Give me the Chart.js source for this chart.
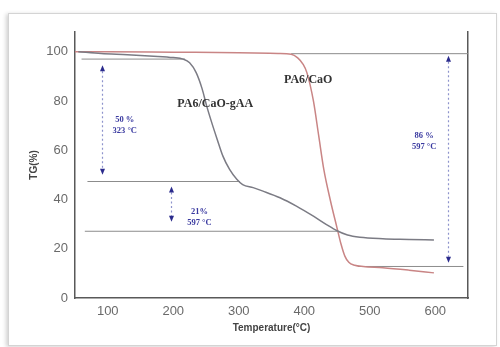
<!DOCTYPE html>
<html>
<head>
<meta charset="utf-8">
<script src="https://cdn.jsdelivr.net/npm/chart.js"></script>
<style>
  body { margin: 0; background: #fff; }
  #frame { position: absolute; left: 8px; top: 13px; width: 487px; height: 331px; border: 1px solid #d4d4d4; box-shadow: -2px 1px 4px rgba(0,0,0,0.18); background: #fff; }
  #chart { position: absolute; left: 0; top: 0; }
</style>
</head>
<body>
<div id="frame"></div>
<canvas id="chart" width="500" height="347"></canvas>
<script>
const ctx = document.getElementById('chart');

const xTicks = [100, 200, 300, 400, 500, 600];
const yTicks = [0, 20, 40, 60, 80, 100];

// PA6/CaO-gAA (curva gris)
const gaaTemp = [55, 90, 130, 170, 200, 215, 225, 235, 244, 251, 259, 267, 276, 286, 297, 306, 322, 337, 363, 388, 414, 434, 450, 466, 485, 520, 560, 598];
const gaaTG = [100, 99.3, 98.8, 98.2, 97.6, 97, 95.5, 91.5, 85, 78, 71, 64.5, 57.5, 52.2, 48.2, 46, 44.8, 43.4, 40.7, 37.3, 33.2, 29.8, 27.3, 25.6, 24.7, 24.1, 23.8, 23.5];

// PA6/CaO (curva roja)
const caoTemp = [50, 100, 200, 300, 360, 380, 390, 398, 404, 414, 422, 430, 440, 450, 456, 462, 468, 477, 490, 520, 560, 598];
const caoTG = [100, 100, 99.8, 99.6, 99.3, 99, 97.5, 95, 91.5, 80, 66, 52, 39.5, 28.5, 22, 17, 14.5, 13.3, 12.8, 12.3, 11.3, 10.2];

// lineas horizontales de referencia
const refLevels = [97, 47.3, 27.1, 12.8, 99.2];
const refStart = [60, 69, 65, 482, 380];
const refEnd = [218, 302, 452, 643, 650];

// flechas punteadas
const arrowTemp = [91, 196, 620];
const arrowFrom = [94.5, 45.3, 98.4];
const arrowTo = [50, 31, 14.3];
const arrowText = [['50 %', '323 °C'], ['21%', '597 °C'], ['86 %', '597 °C']];

const toPoints = (xs, ys) => xs.map((x, i) => ({ x: x, y: ys[i] }));

const curves = [
  { label: 'PA6/CaO-gAA', data: toPoints(gaaTemp, gaaTG), borderColor: '#7b7b84', borderWidth: 1.5, pointRadius: 0, cubicInterpolationMode: 'monotone' },
  { label: 'PA6/CaO', data: toPoints(caoTemp, caoTG), borderColor: '#c98585', borderWidth: 1.5, pointRadius: 0, cubicInterpolationMode: 'monotone' }
];
const refs = refLevels.map((v, i) => ({
  label: 'ref' + i,
  data: [{ x: refStart[i], y: v }, { x: refEnd[i], y: v }],
  borderColor: '#8c8c8c', borderWidth: 1, pointRadius: 0
}));

function head(c, x, y, dir) {
  c.beginPath();
  c.moveTo(x, y);
  c.lineTo(x - 2.5, y - dir * 6);
  c.lineTo(x + 2.5, y - dir * 6);
  c.closePath();
  c.fill();
}

const notes = {
  id: 'notes',
  afterDatasetsDraw(chart) {
    const c = chart.ctx, xs = chart.scales.x, ys = chart.scales.y;
    c.save();
    arrowTemp.forEach((t, i) => {
      const px = Math.round(xs.getPixelForValue(t)) + 0.5;
      const y1 = ys.getPixelForValue(arrowFrom[i]);
      const y2 = ys.getPixelForValue(arrowTo[i]);
      c.strokeStyle = '#8d93cc';
      c.lineWidth = 1.2;
      c.setLineDash([2, 2.5]);
      c.beginPath();
      c.moveTo(px, y1 + 6);
      c.lineTo(px, y2 - 6);
      c.stroke();
      c.setLineDash([]);
      c.fillStyle = '#2b2b8c';
      head(c, px, y1, -1);
      head(c, px, y2, 1);
    });
    // textos de las flechas
    const tx = [126, 240, 583];
    const ty = [72.2, 35.1, 65.7];
    c.font = 'bold 8.5px "Liberation Serif"';
    c.fillStyle = '#3a3aa0';
    c.textAlign = 'center';
    c.textBaseline = 'middle';
    arrowText.forEach((lines, i) => {
      const px = xs.getPixelForValue(tx[i]);
      const py = ys.getPixelForValue(ty[i]);
      c.fillText(lines[0], px, py);
      c.fillText(lines[1], px, py + 11);
    });
    // nombres de las curvas
    c.font = 'bold 12px "Liberation Serif"';
    c.fillStyle = '#333';
    c.fillText('PA6/CaO-gAA', xs.getPixelForValue(264), ys.getPixelForValue(78.8));
    c.fillText('PA6/CaO', xs.getPixelForValue(406), ys.getPixelForValue(88.6));
    c.restore();
  }
};

const axisBorder = { display: true, color: '#595959', width: 1.5 };
const tickFont = { size: 13, family: 'Liberation Sans' };

const config = {
  type: 'line',
  data: { datasets: curves.concat(refs) },
  options: {
    responsive: false,
    animation: false,
    layout: { padding: { top: 32, right: 32, left: 0, bottom: 0 } },
    plugins: { legend: { display: false }, tooltip: { enabled: false } },
    scales: {
      x: {
        type: 'linear', min: 50, max: 650, position: 'bottom',
        afterBuildTicks: s => { s.ticks = xTicks.map(v => ({ value: v })); },
        afterFit: s => { s.height = 49; },
        grid: { display: false, drawTicks: false },
        border: axisBorder,
        ticks: { color: '#6a6a6a', font: tickFont, padding: 6 },
        title: { display: true, text: 'Temperature(°C)', color: '#444', font: { size: 10, weight: 'bold', family: 'Liberation Sans' }, padding: { top: 0, bottom: 13 } }
      },
      y: {
        type: 'linear', min: 0, max: 108, position: 'left',
        afterBuildTicks: s => { s.ticks = yTicks.map(v => ({ value: v })); },
        afterFit: s => { s.width = 75; },
        grid: { display: false, drawTicks: false },
        border: axisBorder,
        ticks: { color: '#6a6a6a', font: tickFont, padding: 7 },
        title: { display: true, text: 'TG(%)', color: '#444', font: { size: 10, weight: 'bold', family: 'Liberation Sans' }, padding: { top: 28, bottom: 0 } }
      },
      yR: {
        type: 'linear', min: 0, max: 108, position: 'right',
        afterFit: s => { s.width = 0; },
        grid: { display: false, drawTicks: false },
        border: axisBorder,
        ticks: { display: false }
      }
    }
  },
  plugins: [notes]
};

new Chart(ctx, config);
</script>
</body>
</html>
